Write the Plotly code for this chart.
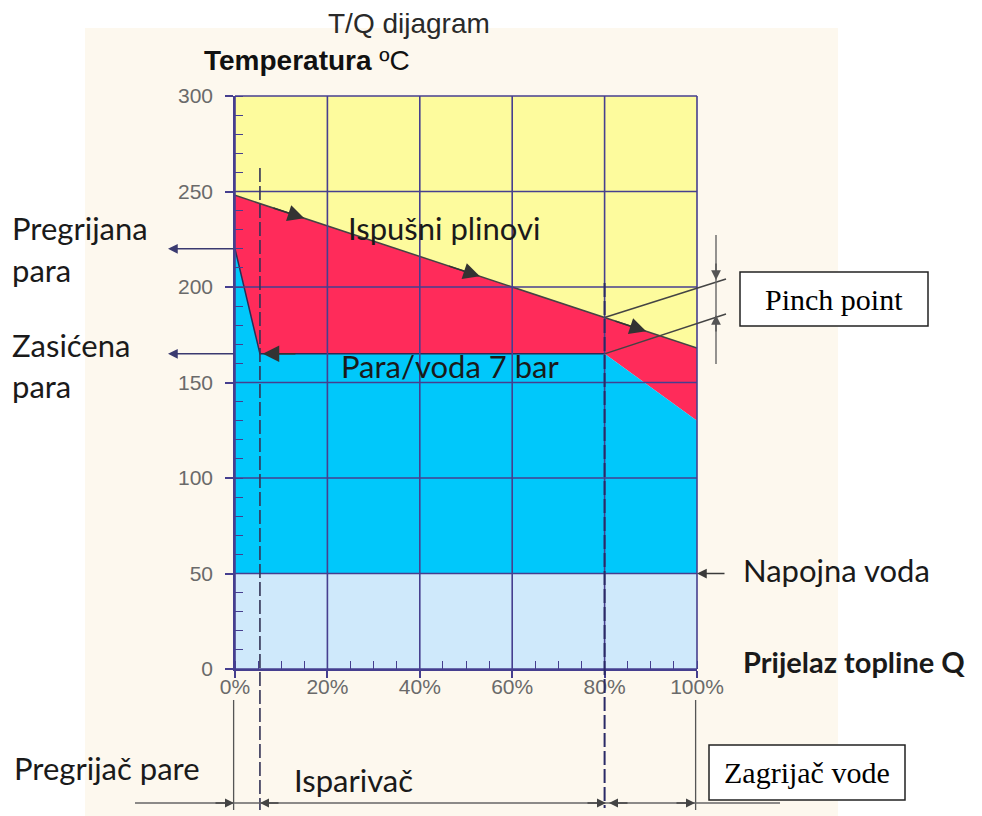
import numpy as np
import plotly.graph_objects as go

# ---------------- data ----------------
q_ticks = [0, 20, 40, 60, 80, 100]
q_tick_labels = ["0%", "20%", "40%", "60%", "80%", "100%"]
t_ticks = [0, 50, 100, 150, 200, 250, 300]

q_gas = [0, 100]          # exhaust gas line (Q %)
t_gas = [248, 168]        # exhaust gas temperature (°C)

q_ws = [0, 5.4, 80, 100]  # water/steam line (Q %)
t_ws = [220, 165, 165, 130]

t_feed = 50               # feed water temperature
q_sections = [0, 5.4, 80, 100]   # superheater | evaporator | economizer
q_range = [0, 100]
t_range = [0, 300]

# ---------------- geometry helpers (page pixels; body margin is 8px) ----------------
OFF = 8
W, H = 982 - OFF, 816 - OFF
L, R, T, B = 235, 697, 96, 669   # page pixel positions of the plot frame


def X(px):
    return (px - L) / (R - L)


def Y(py):
    return (B - py) / (B - T)


def qp(q):
    return (q - q_range[0]) / (q_range[1] - q_range[0])


def tp(t):
    return (t - t_range[0]) / (t_range[1] - t_range[0])


def tpx(t):
    return B - tp(t) * (B - T)


GRID = "#463f8f"
DARK = "#333333"
YELLOW = "#fdfb9d"
RED = "#ff2b5a"
BLUE = "#00c8fb"
LBLUE = "#cfe9fb"

fig = go.Figure()

fig.add_trace(go.Scatter(x=q_gas + q_gas[::-1], y=t_gas + [t_range[1]] * 2,
                         fill="toself", fillcolor=YELLOW, mode="lines",
                         line=dict(width=0), hoverinfo="skip", showlegend=False))
fig.add_trace(go.Scatter(x=q_gas + q_ws[::-1], y=t_gas + t_ws[::-1],
                         fill="toself", fillcolor=RED, mode="lines",
                         line=dict(width=0), hoverinfo="skip", showlegend=False))
fig.add_trace(go.Scatter(x=q_ws + [q_ws[-1], q_ws[0]], y=t_ws + [t_feed, t_feed],
                         fill="toself", fillcolor=BLUE, mode="lines",
                         line=dict(width=0), hoverinfo="skip", showlegend=False))
fig.add_trace(go.Scatter(x=[q_range[0], q_range[1], q_range[1], q_range[0]],
                         y=[t_range[0], t_range[0], t_feed, t_feed],
                         fill="toself", fillcolor=LBLUE, mode="lines",
                         line=dict(width=0), hoverinfo="skip", showlegend=False))
fig.add_trace(go.Scatter(x=q_gas, y=t_gas, mode="lines",
                         line=dict(color="#444", width=1.5), hoverinfo="skip", showlegend=False))
fig.add_trace(go.Scatter(x=q_ws[:3], y=t_ws[:3], mode="lines",
                         line=dict(color="#2b2b55", width=1.5), hoverinfo="skip", showlegend=False))

shapes = []
shapes.append(dict(type="rect", xref="paper", yref="paper", x0=X(85), x1=X(838),
                   y0=Y(28), y1=Y(816), fillcolor="#fdf8ee", line=dict(width=0), layer="below"))
for t in t_ticks:
    shapes.append(dict(type="line", xref="paper", yref="paper", x0=0, x1=1,
                       y0=tp(t), y1=tp(t), line=dict(color=GRID, width=1.6), layer="above"))
for q in q_ticks:
    shapes.append(dict(type="line", xref="paper", yref="paper", x0=qp(q), x1=qp(q),
                       y0=0, y1=1, line=dict(color=GRID, width=1.6), layer="above"))
shapes.append(dict(type="line", xref="paper", yref="paper", x0=qp(q_sections[1]), x1=qp(q_sections[1]),
                   y0=Y(168), y1=Y(810), line=dict(color="#333355", width=1.6, dash="14px,4px"), layer="above"))
shapes.append(dict(type="line", xref="paper", yref="paper", x0=qp(q_sections[2]), x1=qp(q_sections[2]),
                   y0=Y(283), y1=Y(808), line=dict(color="#2a2a66", width=2, dash="14px,4px"), layer="above"))
for q in (q_sections[0], q_sections[3]):
    shapes.append(dict(type="line", xref="paper", yref="paper", x0=qp(q) - 0.003, x1=qp(q) - 0.003,
                       y0=Y(700), y1=Y(810), line=dict(color="#555", width=1.3)))
shapes.append(dict(type="line", xref="paper", yref="paper", x0=X(135), x1=X(780),
                   y0=Y(803), y1=Y(803), line=dict(color="#666", width=1.6)))
t_gas80 = float(np.interp(q_sections[2], q_gas, t_gas))
shapes.append(dict(type="line", xref="paper", yref="paper", x0=qp(q_sections[2]), x1=X(726),
                   y0=tp(t_gas80), y1=Y(279), line=dict(color="#444", width=1.5)))
shapes.append(dict(type="line", xref="paper", yref="paper", x0=qp(q_sections[2]), x1=X(726),
                   y0=tp(t_ws[2]), y1=Y(314), line=dict(color="#444", width=1.5)))
shapes.append(dict(type="line", xref="paper", yref="paper", x0=X(716), x1=X(716),
                   y0=Y(235), y1=Y(364), line=dict(color="#666", width=1.4)))
shapes.append(dict(type="rect", xref="paper", yref="paper", x0=X(740), x1=X(928),
                   y0=Y(272), y1=Y(326), fillcolor="white", line=dict(color="#222", width=1.5)))
shapes.append(dict(type="rect", xref="paper", yref="paper", x0=X(709), x1=X(905),
                   y0=Y(745), y1=Y(800), fillcolor="white", line=dict(color="#222", width=1.5)))

ann = []
CAL = "Lato"


def txt(text, px, py, size, xanchor="left", font=CAL, color="#1a1a1a", bold=False):
    if bold:
        text = "<b>" + text + "</b>"
    ann.append(dict(xref="paper", yref="paper", x=X(px), y=Y(py), text=text, showarrow=False,
                    xanchor=xanchor, yanchor="middle", font=dict(family=font, size=size, color=color)))


def arrow(tip, tail, color=DARK, size=1.3, width=1.5, head=2):
    ann.append(dict(xref="paper", yref="paper", x=X(tip[0]), y=Y(tip[1]),
                    ax=tail[0] - tip[0], ay=tail[1] - tip[1], axref="pixel", ayref="pixel",
                    text="", showarrow=True, arrowhead=head, arrowsize=size,
                    arrowwidth=width, arrowcolor=color, standoff=0))


def darrow(q_tip, t_tip, q_tail, t_tail, color=DARK, size=2.2, width=1.5):
    ann.append(dict(xref="x", yref="y", x=q_tip, y=t_tip, ax=q_tail, ay=t_tail,
                    axref="x", ayref="y", text="", showarrow=True, arrowhead=2,
                    arrowsize=size, arrowwidth=width, arrowcolor=color, standoff=0))


txt("T/Q dijagram", 409, 23, 28, xanchor="center", font="Liberation Sans", color="#2a2a2a")
txt("<b>Temperatura</b> ºC", 202, 61, 28, font="Liberation Sans", color="#111")
txt("Pregrijana", 10, 228, 31)
txt("para", 10, 270, 31)
txt("Zasićena", 10, 345, 31)
txt("para", 10, 386, 31)
txt("Ispušni plinovi", 346, 228, 31)
txt("Para/voda 7 bar", 339, 366, 31)
txt("Napojna voda", 741, 570, 31)
txt("Prijelaz topline Q", 741, 661, 29, bold=True)
txt("Pregrijač pare", 12, 768, 31)
txt("Isparivač", 292, 780, 31)
txt("Pinch point", 834, 299, 30, xanchor="center", font="Liberation Serif", color="#000")
txt("Zagrijač vode", 807, 772, 30, xanchor="center", font="Liberation Serif", color="#000")

arrow((168, tpx(t_ws[0])), (L, tpx(t_ws[0])), color="#3a3a70")
arrow((168, tpx(t_ws[1])), (L, tpx(t_ws[1])), color="#3a3a70")
arrow((R, tpx(t_feed)), (726, tpx(t_feed)), color="#3a3a3a")
for q0, q1 in [(8, 15), (46, 53), (82, 89)]:
    darrow(q1, float(np.interp(q1, q_gas, t_gas)), q0, float(np.interp(q0, q_gas, t_gas)))
darrow(q_ws[1] + 0.6, t_ws[1], q_ws[1] + 8, t_ws[1], color="#333")
arrow((716, 280), (716, 262), color="#555", size=1.3)
arrow((716, 315), (716, 333), color="#555", size=1.3)
for tip, tail in [((234, 803), (214, 803)), ((260, 803), (280, 803)),
                  ((606, 803), (586, 803)), ((609, 803), (629, 803)),
                  ((695, 803), (675, 803))]:
    arrow(tip, tail, color="#444", size=1.2)

TICKFONT = dict(family="Liberation Sans", size=21, color="#6a6a6a")
fig.update_layout(
    width=W, height=H,
    margin=dict(l=L - OFF, r=W - (R - OFF), t=T - OFF, b=H - (B - OFF), pad=0),
    paper_bgcolor="white", plot_bgcolor=YELLOW,
    shapes=shapes, annotations=ann, showlegend=False,
    xaxis=dict(range=q_range, tickvals=q_ticks, ticktext=q_tick_labels, showgrid=False,
               zeroline=False, showline=True, linecolor=GRID, linewidth=1.6,
               ticks="outside", ticklen=7, tickwidth=1.6, tickcolor=GRID,
               ticklabelstandoff=-9, tickfont=TICKFONT,
               minor=dict(ticks="inside", dtick=5, ticklen=8, tickwidth=1.4, tickcolor=GRID),
               layer="above traces", fixedrange=True),
    yaxis=dict(range=t_range, tickvals=t_ticks, showgrid=False,
               zeroline=False, showline=True, linecolor=GRID, linewidth=1.6,
               ticks="outside", ticklen=8, tickwidth=1.6, tickcolor=GRID,
               ticklabelstandoff=8, tickfont=TICKFONT,
               minor=dict(ticks="inside", dtick=10, ticklen=8, tickwidth=1.4, tickcolor=GRID),
               layer="above traces", fixedrange=True),
)

fig.write_html("out.html")
